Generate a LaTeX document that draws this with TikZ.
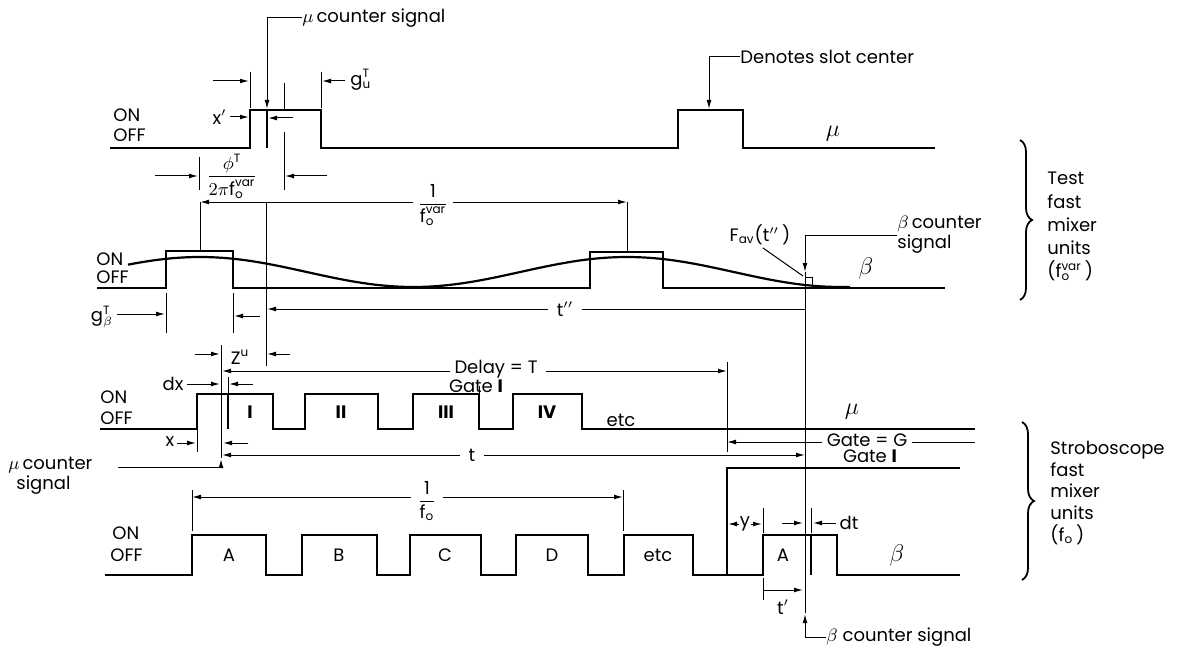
\documentclass[tikz,border=0pt]{standalone}
\usepackage{amsmath}
\usepackage{fontspec}
\setmainfont{Poppins}
\usetikzlibrary{arrows.meta,decorations.pathreplacing}
\begin{document}
\begin{tikzpicture}[x=0.5pt,y=-0.5pt,
  every node/.style={font=\fontsize{9}{10}\selectfont, inner sep=0pt},
  sig/.style={line width=1pt},
  dim/.style={line width=0.5pt},
  ar/.style={dim,-{Latex[length=4.5pt,width=2.4pt]}},
  big/.style={font=\fontsize{13}{14}\selectfont},
  brc/.style={line width=0.9pt, decorate, decoration={brace, amplitude=6pt}},
  side/.style={align=left, anchor=north west}]
\useasboundingbox (0,0) rectangle (1200,658);

% ---------------- Row 1 : test mu ----------------
\draw[sig] (110,148) -- (250,148) -- (250,110) -- (321,110) -- (321,148) -- (678,148)
  -- (678,110) -- (743,110) -- (743,148) -- (935,148);
\draw[sig] (267,110) -- (267,148);
\node (on1) [anchor=west] at (113,115) {ON};
\node (off1) [anchor=west] at (113,135) {OFF};
\node (mucs) [anchor=west] at (302,18) {$\mu$\,counter signal};
\draw[ar] (mucs.west) -| (267,109);
\draw[dim] (250,72) -- (250,108) (321,72) -- (321,108);
\draw[ar] (213,81) -- (249,81);
\draw[ar] (345,81) -- (322,81);
\node (gu) [anchor=west] at (350,80) {g$^{\text{T}}_{\text{u}}$};
\node (xp) [anchor=east] at (227,117) {x$'$};
\draw[ar] (xp.east) ++(3,0) -- (249,117);
\draw[ar] (293,118) -- (268,118);
\draw[dim] (284,83) -- (284,109) (284,132) -- (284,190);
\draw[dim] (199,157) -- (199,190);
\draw[ar] (155,176) -- (198,176);
\draw[ar] (327,176) -- (285,176);
\node (phi) at (232,176) {$\dfrac{\phi^{\text{T}}}{2\pi\text{f}^{\text{var}}_{\text{o}}}$};
\node (dsc) [anchor=west] at (740,57) {Denotes slot center};
\draw[ar] (dsc.west) -| (709,109);
\node (mu1) [big] at (833,134) {$\mu$};

% ---------------- Row 2 : test beta ----------------
\draw[sig] (97,288) -- (166,288) -- (166,251) -- (233,251) -- (233,288) -- (590,288)
  -- (590,252) -- (663,252) -- (663,288) -- (945,288);
\draw[line width=1.1pt] plot[domain=128:850,samples=100] (\x,{272-15*cos((\x-200)/427*360)});
\node (on2) [anchor=west] at (96,259) {ON};
\node (off2) [anchor=west] at (96,277) {OFF};
\draw[dim] (200,202) -- (200,251) (627,202) -- (627,252);
\node (fvar) at (433,205) {$\dfrac{\text{1}}{\text{f}^{\text{var}}_{\text{o}}}$};
\draw[ar] (fvar.west) ++(-4,-3) -- (200,202);
\draw[ar] (fvar.east) ++(4,-3) -- (627,202);
\node (bcs) [anchor=west, align=left] at (897,235) {$\beta$\,counter\\signal};
\draw[ar] (bcs.west) -| (805,272);
\draw[dim] (805,272) -- (805,613);
\draw[dim] (805,277) -- (812,277) -- (812,288);
\node (fav) at (760,235) {F$_{\text{av}}$(t$''$\,)};
\draw[dim] (763,248) -- (803,276);
\node (b2) [big] at (866,268) {$\beta$};
\draw[dim] (166,293) -- (166,333) (233,293) -- (233,333);
\draw[ar] (117,314) -- (165,314);
\draw[ar] (260,316) -- (234,316);
\node (gb) at (102,317) {g$^{\text{T}}_{\beta}$};
\draw[dim] (266,203) -- (266,366);
\node (tpp) at (565,309) {t$''$};
\draw[ar] (tpp.west) ++(-8,0) -- (267,309);
\draw[dim] (tpp.east) ++(8,0) -- (805,309);

% Z^u
\draw[dim] (221,345) -- (221,458);
\draw[ar] (195,354) -- (220,354);
\draw[ar] (290,354) -- (267,354);
\node (zu) at (240,357) {Z$^{\text{u}}$};

% ---------------- Row 3 : stroboscope mu ----------------
\draw[sig] (100,429) -- (197,429) -- (197,394) -- (273,394) -- (273,429) -- (305,429)
  -- (305,394) -- (378,394) -- (378,429) -- (413,429) -- (413,394) -- (479,394) -- (479,429)
  -- (513,429) -- (513,394) -- (582,394) -- (582,429) -- (975,429);
\draw[sig] (228,394) -- (228,429);
\draw[dim] (479,394) -- (479,386);
\node (on3) [anchor=west] at (100,397) {ON};
\node (off3) [anchor=west] at (100,418) {OFF};
\node (p1) at (250,412) {$\mathbf{I}$};
\node (p2) at (341,412) {$\mathbf{II}$};
\node (p3) at (446,412) {$\mathbf{III}$};
\node (p4) at (547,412) {$\mathbf{IV}$};
\node (etc3) at (621,420) {etc};
\node (mu3) [big] at (852,412) {$\mu$};
\node (delay) at (496,369) {Delay = T};
\node (gate1) at (476,386) {Gate $\mathbf{I}$};
\draw[ar] (delay.west) ++(-4,2) -- (222,371);
\draw[ar] (delay.east) ++(8,2) -- (727,371);
\draw[dim] (727,362) -- (727,452);
\node (dx) at (173,384) {dx};
\draw[ar] (187,384) -- (220,384);
\draw[ar] (253,384) -- (229,384);
\draw[dim] (228,377) -- (228,393);
\node (xl) at (170,442) {x};
\draw[ar] (177,443) -- (196,443);
\draw[dim] (197,429) -- (197,452);
\draw[ar] (248,443) -- (223,443);
\node (tl) at (472,455) {t};
\draw[ar] (tl.west) ++(-8,0) -- (222,455);
\draw[ar] (tl.east) ++(8,0) -- (805,455);
\node (gateg) at (867,440) {Gate = G};
\draw[ar] (gateg.west) ++(-4,2) -- (727,442);
\draw[dim] (gateg.east) ++(4,2) -- (975,442);
\node (gate2) at (870,456) {Gate $\mathbf{I}$};
\node (mucs2) [anchor=west, align=left] at (8,476) {$\mu$\,counter\\\hspace*{4pt}signal};
\draw[ar] (118,467) -- (221,467) -- (221,459);

% ---------------- Row 4 : stroboscope beta ----------------
\draw[dim, line width=0.7pt] (727,575) -- (727,468) -- (960,468);
\draw[sig] (105,575) -- (192,575) -- (192,535) -- (266,535) -- (266,575) -- (302,575)
  -- (302,535) -- (377,535) -- (377,575) -- (410,575) -- (410,535) -- (481,535) -- (481,575)
  -- (516,575) -- (516,535) -- (588,535) -- (588,575) -- (624,575) -- (624,535) -- (693,535)
  -- (693,575) -- (763,575) -- (763,535) -- (837,535) -- (837,575) -- (960,575);
\draw[sig] (811,535) -- (811,575);
\node (on4) [anchor=west] at (112,533) {ON};
\node (off4) [anchor=west] at (110,555) {OFF};
\node (qa) at (229,555) {A};
\node (qb) at (339,555) {B};
\node (qc) at (445,555) {C};
\node (qd) at (552,555) {D};
\node (qe) at (658,555) {etc};
\node (qa2) at (783,555) {A};
\node (b4) [big] at (897,555) {$\beta$};
\draw[dim] (192,490) -- (192,531) (623,490) -- (623,531);
\node (fo) at (427,501) {$\dfrac{\text{1}}{\text{f}_{\text{o}}}$};
\draw[ar] (fo.west) ++(-6,-4) -- (192,497);
\draw[ar] (fo.east) ++(6,-4) -- (623,497);
\node (yl) at (745,524) {y};
\draw[ar] (739,524) -- (728,524);
\draw[ar] (751,524) -- (762,524);
\draw[dim] (763,508) -- (763,533);
\node (dt) at (849,523) {dt};
\draw[ar] (782,523) -- (803,523);
\draw[ar] (836,523) -- (813,523);
\draw[dim] (811,508) -- (811,533);
\draw[dim] (763,578) -- (763,600);
\draw[ar] (763,590) -- (803,590);
\node (tp) at (783,607) {t$'$};
\node (bcs2) [anchor=west] at (826,637) {$\beta$ counter signal};
\draw[ar] (bcs2.west) -- (805,637) -- (805,614);

% ---------------- braces ----------------
\draw[brc] (1020,140) -- (1020,300);
\node (test) [side, font=\fontsize{9}{11.6}\selectfont] at (1047,172) {Test\\fast\\mixer\\units\\(f$^{\text{var}}_{\text{o}}$\,)};
\draw[brc] (1022,422) -- (1022,580);
\node (strob) [side, font=\fontsize{9}{10.8}\selectfont] at (1050,441) {Stroboscope\\fast\\mixer\\units\\(f$_{\text{o}}$\,)};
\end{tikzpicture}
\end{document}
